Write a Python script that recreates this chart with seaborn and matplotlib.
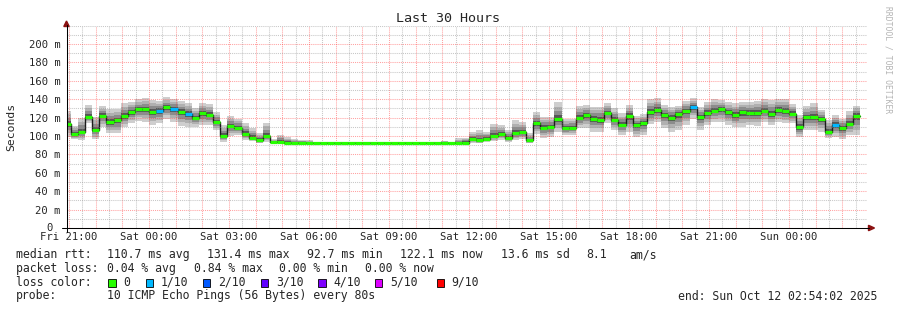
import numpy as np
import pandas as pd
import matplotlib
matplotlib.use("Agg")
import matplotlib.pyplot as plt
import matplotlib.dates as mdates
import matplotlib.ticker as mticker
import seaborn as sns
from matplotlib.patches import Rectangle, Polygon
from matplotlib.lines import Line2D

# ---------------- data ----------------
step_start = "2025-10-10 20:48"
step_minutes = 16
view_start = "2025-10-10 20:54:02"
view_end = "2025-10-12 02:54:02"

median_ms = [
    113, 102, 104, 121, 106.5, 122, 115.5, 117, 121.7, 126,
    129, 129, 126, 127.5, 131, 129, 126, 124, 119.6, 125,
    123, 115, 100, 111, 109, 102, 98, 95.3, 100, 93,
    94,
    92.8, 92.7, 92.7, 92.7, 92.7, 92.7, 92.7, 92.7, 92.7, 92.7,
    92.7, 92.7, 92.7, 92.7, 92.7, 92.7, 92.7, 92.7, 92.7, 92.7,
    92.7, 92.7, 92.7, 92.7, 92.8, 92.8,
    96.7, 95.3, 97, 100, 102, 97.5, 103, 104, 95.3, 113.8,
    109, 109.8, 118.5, 108.3, 109, 120, 122.8, 118.5, 117.8, 125,
    117.8, 112, 121.7, 112, 114, 126.4, 128, 122.8, 120, 123.6,
    127, 131, 120.3, 125, 127.5, 129.3, 125.7, 123, 125.7, 125,
    125, 127.5, 124, 128.6, 126.8, 124.3, 109.4, 120.3, 120.3, 118.5,
    104.7, 112.3, 108.7, 113.4, 122,
]

smoke_hi_ms = [
    127.5, 111, 120, 133.7, 121, 132.6, 129.3, 129.3, 135.5, 137.3,
    139.9, 141, 139, 138, 142, 140, 138, 135.5, 130, 135.5,
    134.8, 126.4, 112, 121.5, 119, 114.5, 109, 103.6, 114.5, 96.7,
    101,
    99, 96.4, 95.6, 95.3, 93.4, 93.4, 93.4, 93.4, 93.4, 93.4,
    93.4, 93.4, 93.4, 93.4, 93.4, 93.4, 93.4, 93.4, 93.4, 93.4,
    93.4, 93.4, 95, 93.4, 97.5, 98,
    104.7, 106.5, 104.7, 113, 112, 106.5, 117.4, 115.5, 103, 126.4,
    121, 121, 137.3, 119, 119, 133, 133.7, 131.9, 131.9, 135.5,
    130, 124.6, 133.7, 122, 123.6, 140.2, 141, 133.7, 131.9, 133,
    138.4, 141, 131.9, 137.3, 140.2, 139, 136.5, 135.5, 137.3, 137.3,
    138, 140.2, 139, 140.2, 140.2, 134.4, 122.8, 133, 135.5, 128.3,
    117.4, 122.8, 119, 127.2, 133,
]

smoke_lo_ms = [
    99, 96.4, 95.6, 113.8, 96.7, 110, 103, 103, 109.4, 113.8,
    116.7, 115.5, 112, 113.8, 119, 115.5, 111, 110, 110, 112,
    112, 106.5, 94, 100, 101, 95.6, 94.6, 92, 94, 92,
    92,
    92.2, 92.3, 92.3, 92.3, 92.3, 92.3, 92.3, 92.3, 92.3, 92.3,
    92.3, 92.3, 92.3, 92.3, 92.3, 92.3, 92.3, 92.3, 92.3, 92.3,
    92.3, 92.3, 92.3, 92.3, 92.3, 92.3,
    92, 92, 93, 94.6, 95.6, 93, 95.6, 96.7, 92, 101.8,
    97.5, 99, 104.7, 101, 101, 108.3, 109, 104.7, 104.7, 113.8,
    106.5, 101, 104.7, 99, 101, 112.7, 115.5, 108.3, 104.7, 106.5,
    112, 119, 106.5, 112, 114.9, 115.5, 112.3, 110, 110, 112,
    111, 115.5, 112, 114.9, 113.8, 113.8, 99, 106.5, 106.5, 104.7,
    97.5, 99, 96.7, 101, 101,
]

loss_tenths = [
    0, 0, 0, 0, 0, 0, 0, 0, 0, 0,
    0, 0, 0, 1, 0, 1, 0, 1, 0, 0,
    0, 0, 0, 0, 0, 0, 0, 0, 0, 0,
    0, 0, 0, 0, 0, 0, 0, 0, 0, 0,
    0, 0, 0, 0, 0, 0, 0, 0, 0, 0,
    0, 0, 0, 0, 0, 0, 0, 0, 0, 0,
    0, 0, 0, 0, 0, 0, 0, 0, 0, 0,
    0, 0, 0, 0, 0, 0, 0, 0, 0, 0,
    0, 0, 0, 0, 0, 0, 0, 0, 1, 0,
    0, 0, 0, 0, 0, 0, 0, 0, 0, 0,
    0, 0, 0, 0, 0, 0, 0, 0, 1, 0,
    0, 0,
]

loss_labels = ["0", "1/10", "2/10", "3/10", "4/10", "5/10", "9/10"]
loss_levels = [0, 1, 2, 3, 4, 5, 9]
loss_hex = ["#26ff00", "#00b8ff", "#0059ff", "#5e00ff", "#7e00ff", "#dd00ff", "#ff0000"]

y_ticks = [0, 20, 40, 60, 80, 100, 120, 140, 160, 180, 200]

title = "Last 30 Hours"
stats_rtt = ["median rtt:", "110.7 ms avg", "131.4 ms max", "92.7 ms min",
             "122.1 ms now", "13.6 ms sd", "8.1", "am/s"]
stats_loss = ["packet loss:", "0.04 % avg", "0.84 % max", "0.00 % min", "0.00 % now"]
probe_text = ["probe:", "10 ICMP Echo Pings (56 Bytes) every 80s"]
end_text = "end: Sun Oct 12 02:54:02 2025"
watermark = "RRDTOOL / TOBI OETIKER"

# ---------------- style ----------------
W, H = 897, 310
sns.set_style("white")
plt.rcParams["font.family"] = ["DejaVu Sans Mono", "DejaVu Sans"]
MONO = 8.3

fig = plt.figure(figsize=(W / 100, H / 100), dpi=100)
fig.patch.set_facecolor("white")

L, R, T, B = 66.5, 866.5, 25.6, 228.0


def fx(x):
    return x / W


def fy(y):
    return 1 - y / H


ax = fig.add_axes([fx(L), fy(B), (R - L) / W, (B - T) / H])
ax.set_facecolor("white")

edges = pd.date_range(pd.Timestamp(step_start), periods=len(median_ms) + 1,
                      freq=f"{step_minutes}min")
en = mdates.date2num(edges.to_pydatetime())
med = np.array(median_ms, float)
hi = np.array(smoke_hi_ms, float)
lo = np.array(smoke_lo_ms, float)


def ext(a):
    return np.append(a, a[-1])


shades = [(1.0, "#cecece"), (0.72, "#b0b0b0"), (0.48, "#8c8c8c"), (0.24, "#575757")]
for f, c in shades:
    top = med + f * (hi - med)
    bot = med - f * (med - lo)
    ax.fill_between(en, ext(bot), ext(top), step="post", color=c, lw=0, zorder=1)

df = pd.DataFrame({"time": en, "median": ext(med)})
sns.lineplot(data=df, x="time", y="median", drawstyle="steps-post",
             color="#1c1c1c", lw=1.0, ax=ax, zorder=2, estimator=None)

cmap = dict(zip(loss_levels, loss_hex))
ax.hlines(med, en[:-1], en[1:], colors=[cmap[l] for l in loss_tenths],
          lw=2.3, zorder=3, capstyle="butt")

x0 = mdates.date2num(pd.Timestamp(view_start).to_pydatetime())
x1 = mdates.date2num(pd.Timestamp(view_end).to_pydatetime())
ax.set_xlim(x0, x1)
ax.set_ylim(0, 220)
ax.set_xlabel("")
ax.set_ylabel("")

# grid
ax.xaxis.set_major_locator(mdates.HourLocator())
ax.xaxis.set_minor_locator(mdates.MinuteLocator(byminute=[30]))


def xfmt(v, pos):
    d = mdates.num2date(v)
    return d.strftime("%a %H:%M") if d.hour % 3 == 0 else ""


ax.xaxis.set_major_formatter(mticker.FuncFormatter(xfmt))
ax.set_yticks(y_ticks)
ax.set_yticklabels([f"{v} m" if v else "" for v in y_ticks])
ax.yaxis.set_minor_locator(mticker.MultipleLocator(10))
ax.grid(which="major", color="#ff3030", alpha=0.45, lw=0.75, linestyle=(0, (1, 1)))
ax.grid(which="minor", color="#909090", alpha=0.5, lw=0.75, linestyle=(0, (1, 1)))
ax.set_axisbelow(False)
ax.tick_params(which="both", length=0)
ax.tick_params(axis="x", pad=3.2, labelsize=7.6)
ax.tick_params(axis="y", pad=4.3, labelsize=7.6)
for s in ax.spines.values():
    s.set_visible(False)

ax.text(-13.5 / (R - L), 0, "0", transform=ax.transAxes, ha="right", va="center",
        fontsize=7.6)

# axes lines with arrows
fig.add_artist(Line2D([fx(L), fx(L)], [fy(232), fy(25)], color="black", lw=0.75,
                      transform=fig.transFigure))
fig.add_artist(Line2D([fx(62), fx(869)], [fy(B), fy(B)], color="black", lw=0.75,
                      transform=fig.transFigure))
arrow_c = "#8b1111"
fig.add_artist(Polygon([[fx(63.8), fy(26.5)], [fx(69.2), fy(26.5)], [fx(66.5), fy(21)]],
                       closed=True, color=arrow_c, transform=fig.transFigure))
fig.add_artist(Polygon([[fx(868.5), fy(225.3)], [fx(868.5), fy(230.7)], [fx(874.5), fy(228)]],
                       closed=True, color=arrow_c, transform=fig.transFigure))

# texts
fig.text(fx(448), fy(19), title, ha="center", va="center", fontsize=9.6)
fig.text(fx(11), fy(127), "Seconds", rotation=90, ha="center", va="center", fontsize=8.2)
fig.text(fx(888), fy(60), watermark, rotation=-90, ha="center", va="center",
         fontsize=5.8, color="#b4b4b4")

rtt_x = [16, 107, 207, 307, 400, 500.5, 586, 629]
for s, x in zip(stats_rtt, rtt_x):
    fig.text(fx(x), fy(258.3), s, ha="left", va="baseline", fontsize=MONO)
loss_x = [16, 107, 194, 279, 365]
for s, x in zip(stats_loss, loss_x):
    fig.text(fx(x), fy(272), s, ha="left", va="baseline", fontsize=MONO)

fig.text(fx(16), fy(285.8), "loss color:", ha="left", va="baseline", fontsize=MONO)
box_x = [108.3, 145.7, 202.7, 261, 318.3, 375, 436.7]
lab_x = [123, 161, 217.7, 276, 333.3, 390, 451]
for bx, lx, lab, col in zip(box_x, lab_x, loss_labels, loss_hex):
    fig.add_artist(Rectangle((fx(bx), fy(286.5)), 7.4 / W, 7.4 / H, facecolor=col,
                             edgecolor="black", lw=0.6, transform=fig.transFigure))
    fig.text(fx(lx), fy(285.8), lab, ha="left", va="baseline", fontsize=MONO)

fig.text(fx(16), fy(299.5), probe_text[0], ha="left", va="baseline", fontsize=MONO)
fig.text(fx(107), fy(299.5), probe_text[1], ha="left", va="baseline", fontsize=MONO)
fig.text(fx(678), fy(299.5), end_text, ha="left", va="baseline", fontsize=MONO)

fig.savefig("out.png", dpi=100, facecolor="white")
